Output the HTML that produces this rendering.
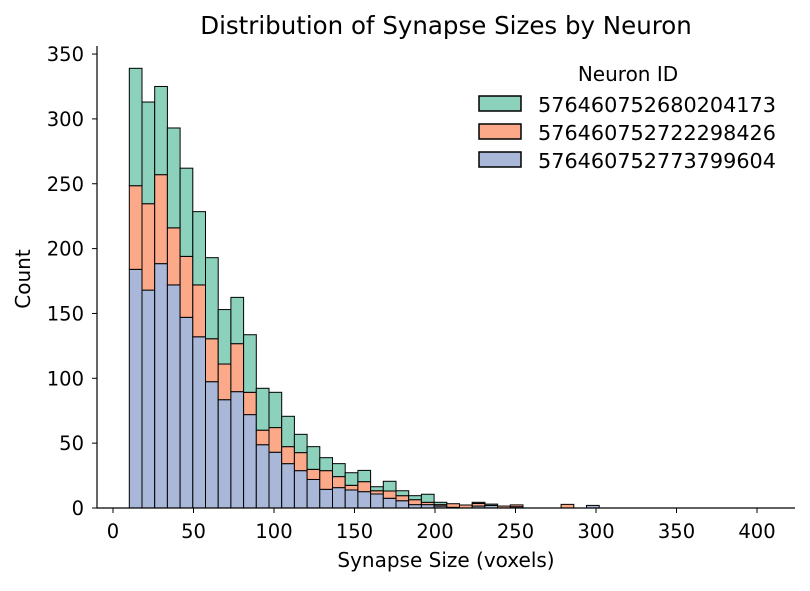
<!DOCTYPE html>
<html><head><meta charset="utf-8"><style>
body{margin:0;background:#fff}
text{font-family:"DejaVu Sans","Liberation Sans",sans-serif;fill:#000}
</style></head><body>
<svg id="s" width="810" height="586" xmlns="http://www.w3.org/2000/svg">
<rect width="810" height="586" fill="#fff"/>
<g id="bars"></g>
<line x1="97" y1="46" x2="97" y2="508.5" stroke="#000" stroke-width="1.2"/>
<line x1="96.5" y1="508" x2="795" y2="508" stroke="#000" stroke-width="1.2"/>
<g id="ticks" font-size="19.5"></g>
<text x="446" y="34" font-size="24.5" text-anchor="middle">Distribution of Synapse Sizes by Neuron</text>
<text x="446" y="567" font-size="20" text-anchor="middle">Synapse Size (voxels)</text>
<text transform="translate(30,279) rotate(-90)" font-size="20" text-anchor="middle">Count</text>
<text x="628" y="81" font-size="20" text-anchor="middle">Neuron ID</text>
<rect x="479" y="96" width="42" height="15" fill="#8cd1bb" stroke="#000" stroke-width="1.5"/>
<rect x="479" y="124" width="42" height="15" fill="#fca989" stroke="#000" stroke-width="1.5"/>
<rect x="479" y="152" width="42" height="15" fill="#a9b7d8" stroke="#000" stroke-width="1.5"/>
<text x="538" y="112" font-size="20" textLength="238" lengthAdjust="spacingAndGlyphs">576460752680204173</text>
<text x="538" y="140" font-size="20" textLength="238" lengthAdjust="spacingAndGlyphs">576460752722298426</text>
<text x="538" y="168" font-size="20" textLength="238" lengthAdjust="spacingAndGlyphs">576460752773799604</text>
</svg>
<script>
var d={0:[184,248.5,339],1:[168,234.6,313],2:[188.4,257,325],3:[172,216,293],4:[147,194,262],5:[132,172,228.5],6:[97.4,130.5,193],7:[83.5,111,153],8:[89.7,126.7,162.4],9:[72,89.2,133.6],10:[48.8,60,92.3],11:[43,62,89.2],12:[34.2,47.3,70.7],13:[28.8,42.7,56.8],14:[22,29.8,47.3],15:[14.4,28.8,38.8],16:[15.7,24.2,34.2],17:[13.9,17.5,27.2],18:[12.6,20.3,29],19:[10.8,13.3,16.4],20:[7.5,13.1,20.6],21:[5.6,9.5,13.3],22:[2.6,6.4,9.5],23:[2.6,4.4,10.6],24:[1.5,2.6,4.4],25:[0.5,3.3,3.3],26:[0,2.3,2.3],27:[1.5,3.5,4.4],28:[2,2,3],29:[0,1.5,1.5],30:[1,2.4,2.4],34:[0,2.8,2.8],36:[2,2,2]};
var cols=["#a9b7d8","#fca989","#8cd1bb"],s="",k=1.297,w=12.7;
for(var i in d){var x=129.3+i*w,prev=0;for(var j=0;j<3;j++){var c=d[i][j];if(c-prev>0.01){var y1=508-c*k,y0=508-prev*k;s+='<rect x="'+x+'" y="'+y1+'" width="'+w+'" height="'+(y0-y1)+'" fill="'+cols[j]+'" stroke="#000" stroke-width="1"/>';}prev=c;}}
document.getElementById("bars").innerHTML=s;
var t="";
for(var v=0;v<=350;v+=50){var y=508-v*k;t+='<line x1="92" x2="97" y1="'+y+'" y2="'+y+'" stroke="#000"/><text x="84" y="'+(y+7)+'" text-anchor="end">'+v+'</text>';}
for(var v=0;v<=400;v+=50){var x=113+v*1.61;t+='<line x1="'+x+'" x2="'+x+'" y1="508" y2="513" stroke="#000"/><text x="'+x+'" y="538" text-anchor="middle">'+v+'</text>';}
document.getElementById("ticks").innerHTML=t;
</script>
</body></html>
